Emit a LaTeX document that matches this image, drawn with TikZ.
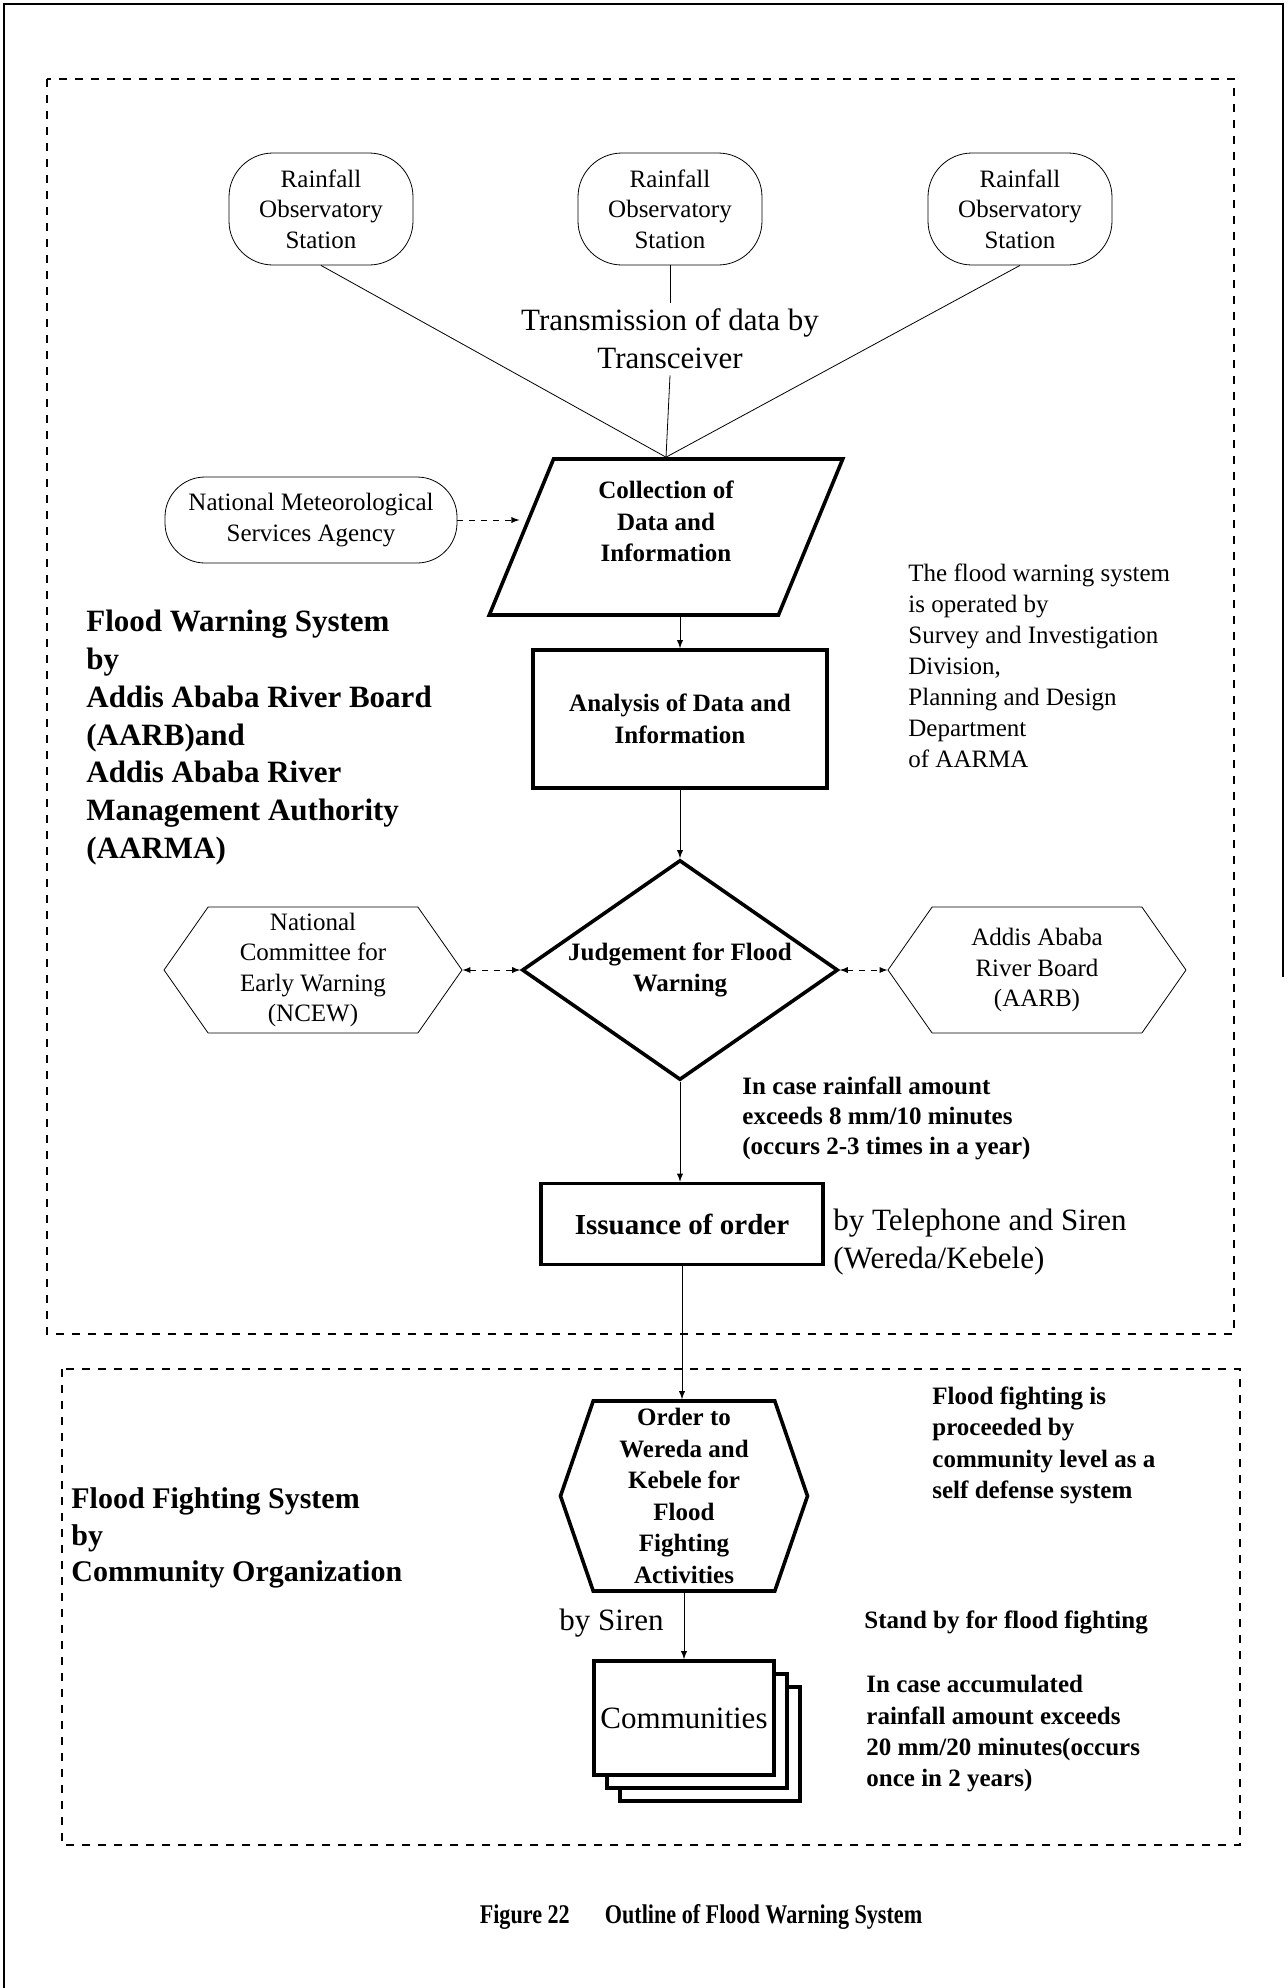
\documentclass[tikz,border=0pt]{standalone}
\usepackage{fontspec}
\setmainfont{Liberation Serif}
\newfontfamily\capfont[FakeStretch=0.82]{Liberation Serif}
\usetikzlibrary{shapes.geometric,shapes.symbols,shadows,positioning}

\begin{document}
\begin{tikzpicture}[x=0.5pt,y=-0.5pt,>=latex,
  txt/.style={font=\fontsize{12.5}{15.2}\selectfont, align=center, inner sep=0pt},
  station/.style={txt, draw, rounded corners=22pt, minimum width=92pt, minimum height=56pt},
  thickbox/.style={txt, draw, line width=1.8pt, font=\bfseries\fontsize{12.5}{15.8}\selectfont},
  hexbox/.style={txt, draw, signal, signal to=west and east, signal pointer angle=110,
    minimum width=149pt, minimum height=63pt},
  note/.style={align=left, anchor=north west, inner sep=0pt},
  frame/.style={dash pattern=on 4pt off 4pt, line width=0.7pt}]

  \useasboundingbox (0,0) rectangle (1287,1988);

  % page frame and the two dashed areas
  \draw[line width=1pt] (4,1988) -- (4,4) -- (1283,4) -- (1283,977);
  \draw[frame] (47,79) rectangle (1234,1334);
  \draw[frame] (62,1369) rectangle (1240,1845);

  % observation
  \node[station] (st1) at (321,209) {Rainfall\\Observatory\\Station};
  \node[station] (st2) at (670,209) {Rainfall\\Observatory\\Station};
  \node[station] (st3) at (1020,209) {Rainfall\\Observatory\\Station};
  \node[txt, font=\fontsize{15.5}{19}\selectfont, inner sep=3pt] (trans) at (670,339)
    {Transmission of data by\\Transceiver};

  \node[thickbox, trapezium, trapezium left angle=71, trapezium right angle=109,
    trapezium stretches=true, minimum width=177pt, minimum height=78pt] (coll) at (666,537)
    {Collection of\\Data and\\Information\\ \mbox{}};
  \node[station, rounded corners=20pt, minimum width=146pt, minimum height=43pt] (nmsa) at (311,520)
    {National Meteorological\\Services Agency};

  % analysis and judgement
  \node[thickbox, minimum width=147pt, minimum height=69pt] (anal) at (680,719)
    {Analysis of Data and\\Information};
  \node[thickbox, diamond, aspect=1.44, minimum width=158pt, minimum height=110pt] (judge) at (680,970)
    {Judgement for Flood\\Warning};
  \node[hexbox] (ncew) at (313,970) {National\\Committee for\\Early Warning\\(NCEW)};
  \node[hexbox] (aarb) at (1037,970) {Addis Ababa\\River Board\\(AARB)};
  \node[thickbox, font=\bfseries\fontsize{14.5}{17}\selectfont, minimum width=141pt,
    minimum height=40.5pt] (issue) at (682,1224) {Issuance of order};

  % flood fighting
  \node[thickbox, signal, signal to=west and east, signal pointer angle=142,
    minimum width=123.5pt, minimum height=95pt] (order) at (684,1496)
    {Order to\\Wereda and\\Kebele for\\Flood\\Fighting\\Activities};
  \node[thickbox, font=\fontsize{15.5}{19}\selectfont, fill=white, minimum width=90pt,
    minimum height=57pt,
    double copy shadow={shadow xshift=6.5pt, shadow yshift=-6.5pt, line width=1.8pt}]
    (comm) at (684,1718) {Communities};

  % side texts
  \node[note, font=\bfseries\fontsize{15.5}{18.85}\selectfont] (fws) at (86,610)
    {Flood Warning System\\by\\Addis Ababa River Board\\(AARB)and\\Addis Ababa River\\Management Authority\\(AARMA)};
  \node[note, font=\fontsize{12.5}{15.5}\selectfont] (oper) at (908,563)
    {The flood warning system\\is operated by\\Survey and Investigation\\Division,\\Planning and Design\\Department\\of AARMA};
  \node[note, font=\bfseries\fontsize{12.5}{15.2}\selectfont] (rain8) at (742,1076)
    {In case rainfall amount\\exceeds 8 mm/10 minutes\\(occurs 2-3 times in a year)};
  \node[note, font=\fontsize{15.5}{19}\selectfont] (bytel) at (833,1209)
    {by Telephone and Siren\\(Wereda/Kebele)};
  \node[note, font=\bfseries\fontsize{15}{18.4}\selectfont] (ffs) at (71,1487)
    {Flood Fighting System\\by\\Community Organization};
  \node[note, font=\bfseries\fontsize{12.5}{15.8}\selectfont] (selfdef) at (932,1386)
    {Flood fighting is\\proceeded by\\community level as a\\self defense system};
  \node[note, anchor=west, font=\bfseries\fontsize{12.5}{15}\selectfont] (standby) at (864,1622)
    {Stand by for flood fighting};
  \node[note, font=\bfseries\fontsize{12.5}{15.7}\selectfont] (accum) at (866,1675)
    {In case accumulated\\rainfall amount exceeds\\20 mm/20 minutes(occurs\\once in 2 years)};
  \node[txt, anchor=east, font=\fontsize{15.5}{19}\selectfont] (siren) at (664,1623) {by Siren};
  \node[txt, font=\capfont\bfseries\fontsize{13.5}{16}\selectfont] (caption) at (701,1917)
    {Figure 22\hspace{1.3em}Outline of Flood Warning System};

  % connectors
  \draw (st1.south) -- (coll.north);
  \draw (st3.south) -- (coll.north);
  \draw (st2.south) -- (trans.north);
  \draw (trans.south) -- (coll.north);
  \draw[->, dashed] (nmsa.east) -- (nmsa.east -| coll.west);
  \draw[->] (anal.north |- coll.south) -- (anal.north);
  \draw[->] (anal.south) -- (judge.north);
  \draw[<->, dashed] (ncew.east) -- (judge.west);
  \draw[<->, dashed] (judge.east) -- (aarb.west);
  \draw[->] (judge.south) -- (judge.south |- issue.north);
  \draw[->] (issue.south) -- (issue.south |- order.north);
  \draw[->] (order.south) -- (comm.north);
\end{tikzpicture}
\end{document}
